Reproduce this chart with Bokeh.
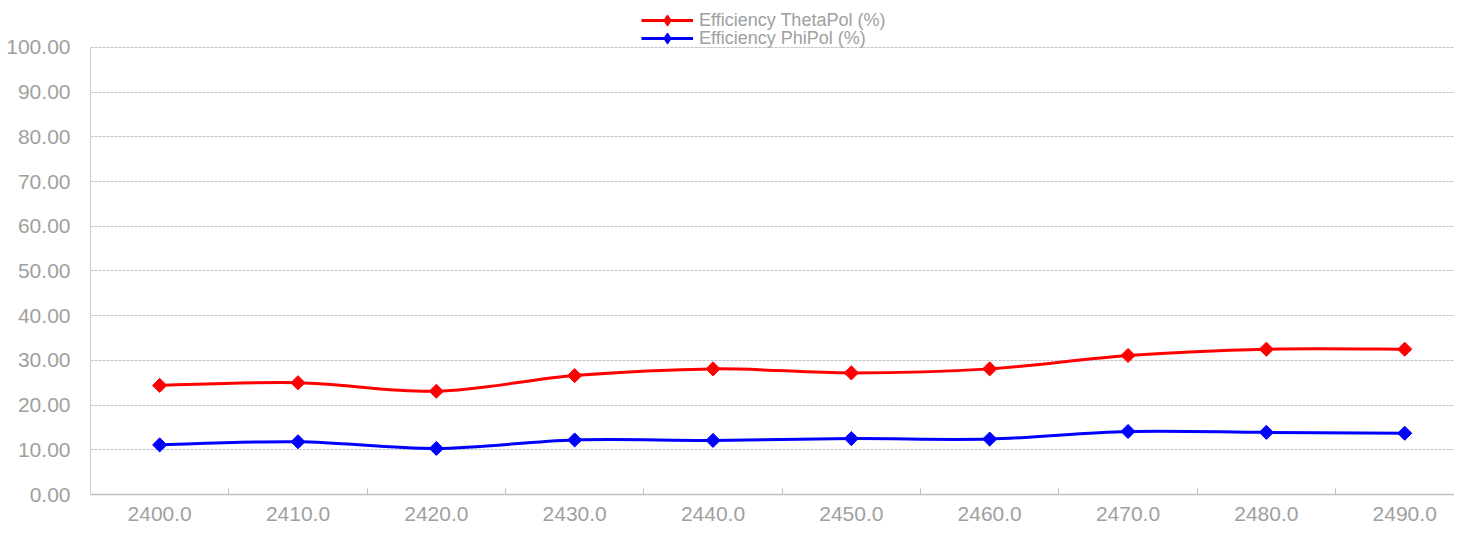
import numpy as np
from bokeh.plotting import figure
from bokeh.models import (Range1d, FixedTicker, PrintfTickFormatter, Legend, LegendItem,
                          ColumnDataSource)
from bokeh.embed import file_html
from bokeh.resources import INLINE

# ---- data ----
freqs = [2400, 2410, 2420, 2430, 2440, 2450, 2460, 2470, 2480, 2490]
x_labels = ["2400.0", "2410.0", "2420.0", "2430.0", "2440.0",
            "2450.0", "2460.0", "2470.0", "2480.0", "2490.0"]
theta_eff = [24.4, 25.0, 23.1, 26.6, 28.1, 27.2, 28.1, 31.1, 32.5, 32.5]
phi_eff = [11.1, 11.8, 10.3, 12.2, 12.1, 12.5, 12.4, 14.1, 13.9, 13.7]
series_names = ["Efficiency ThetaPol (%)", "Efficiency PhiPol (%)"]
y_ticks = [0, 10, 20, 30, 40, 50, 60, 70, 80, 90, 100]

FONT = "Liberation Sans"
TXT = "#a0a0a0"


def smooth_segments(xs, ys):
    """Bezier segments (Catmull-Rom style smoothing) through the data points."""
    xs = np.asarray(xs, float)
    ys = np.asarray(ys, float)
    n = len(xs)
    px = np.concatenate([[xs[0]], xs, [xs[-1]]])
    py = np.concatenate([[ys[0]], ys, [ys[-1]]])
    d = dict(x0=[], y0=[], x1=[], y1=[], cx0=[], cy0=[], cx1=[], cy1=[])
    for i in range(n - 1):
        p0x, p0y = px[i], py[i]
        p1x, p1y = px[i + 1], py[i + 1]
        p2x, p2y = px[i + 2], py[i + 2]
        p3x, p3y = px[i + 3], py[i + 3]
        d["x0"].append(p1x); d["y0"].append(p1y)
        d["x1"].append(p2x); d["y1"].append(p2y)
        d["cx0"].append(p1x + (p2x - p0x) / 6.0)
        d["cy0"].append(p1y + (p2y - p0y) / 6.0)
        d["cx1"].append(p2x - (p3x - p1x) / 6.0)
        d["cy1"].append(p2y - (p3y - p1y) / 6.0)
    return ColumnDataSource(d)


p = figure(width=1454, height=524, output_backend="svg", toolbar_location=None,
           x_range=Range1d(2395, 2493.6), y_range=Range1d(0, 110.5),
           min_border_left=90, min_border_right=0, min_border_top=0, min_border_bottom=30)
p.outline_line_color = None
p.background_fill_color = "white"
p.border_fill_color = "white"

# grid
p.xgrid.grid_line_color = None
p.ygrid.ticker = FixedTicker(ticks=y_ticks)
p.ygrid.grid_line_color = "#c4c4c4"
p.ygrid.grid_line_dash = "3 1"
p.ygrid.grid_line_width = 1

# axes
p.xaxis.ticker = FixedTicker(ticks=freqs, minor_ticks=[f + 5 for f in freqs[:-1]])
p.xaxis.major_label_overrides = {f: lab for f, lab in zip(freqs, x_labels)}
p.xaxis.major_tick_line_color = None
p.xaxis.minor_tick_in = 6
p.xaxis.minor_tick_out = 0
p.xaxis.minor_tick_line_color = "#bfbfbf"
p.xaxis.axis_line_color = "#bfbfbf"
p.xaxis.axis_line_width = 1.5
p.xaxis.major_label_text_font = FONT
p.xaxis.major_label_text_font_size = "21px"
p.xaxis.major_label_text_color = TXT
p.xaxis.major_label_standoff = 6

p.yaxis.ticker = FixedTicker(ticks=y_ticks)
p.yaxis.bounds = (0, 100)
p.yaxis.formatter = PrintfTickFormatter(format="%.2f")
p.yaxis.major_tick_line_color = None
p.yaxis.minor_tick_line_color = None
p.yaxis.axis_line_color = "#cfcfcf"
p.yaxis.major_label_text_font = FONT
p.yaxis.major_label_text_font_size = "21px"
p.yaxis.major_label_text_color = TXT
p.yaxis.major_label_standoff = 14

legend_rows_y = [460, 442]  # legend box positions (pixels from frame bottom)
for name, vals, col, ly in [(series_names[0], theta_eff, "#ff0000", legend_rows_y[0]),
                            (series_names[1], phi_eff, "#0000ff", legend_rows_y[1])]:
    src = smooth_segments(freqs, vals)
    b = p.bezier(x0="x0", y0="y0", x1="x1", y1="y1", cx0="cx0", cy0="cy0",
                 cx1="cx1", cy1="cy1", source=src, line_color=col, line_width=3)
    p.scatter(freqs, vals, marker="square", angle=np.pi / 4, size=10,
              fill_color=col, line_color=col)
    # legend proxy (an undrawn point) so that the legend shows a diamond symbol
    proxy = p.scatter(x=[np.nan], y=[np.nan], marker="diamond", size=11,
                      fill_color=col, line_color=col)
    leg = Legend(items=[LegendItem(label=name, renderers=[b, proxy])],
                 orientation="vertical", location=(551, ly),
                 margin=0, padding=0, spacing=0, label_height=28, glyph_height=28,
                 glyph_width=52, label_standoff=6,
                 label_text_font=FONT, label_text_font_size="18px",
                 label_text_color=TXT, border_line_color=None,
                 background_fill_alpha=0)
    p.add_layout(leg, "center")

open("out.html", "w").write(file_html(p, INLINE))
